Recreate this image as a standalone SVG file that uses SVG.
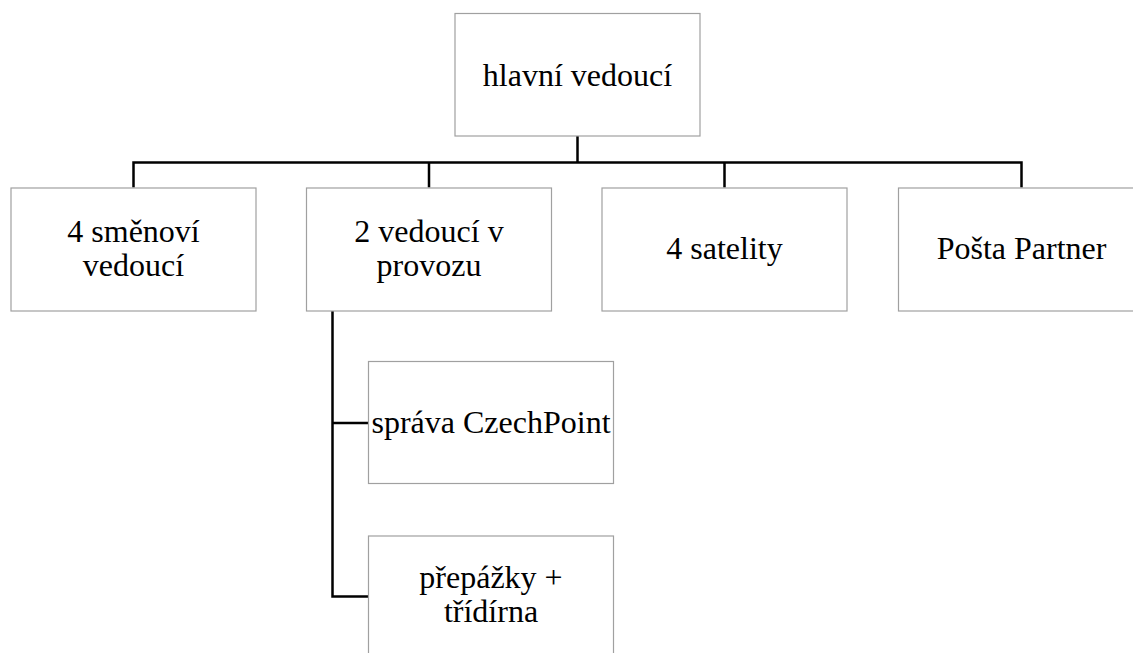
<svg xmlns="http://www.w3.org/2000/svg" width="1133" height="653" viewBox="0 0 1133 653">
<style>
.box{fill:#fff;stroke:#a0a0a0;stroke-width:1.2}
.t{font-family:"Liberation Serif","Times New Roman",serif;font-size:32px;fill:#000;text-anchor:middle}
.c{fill:none;stroke:#000;stroke-width:2.5}
</style>
<rect width="1133" height="653" fill="#fff"/>
<g id="connectors">
<path class="c" d="M577.5 136 V162.5 M133.5 187.5 V162.5 H1021.5 V187.5 M429 162.5 V187.5 M724.5 162.5 V187.5"/>
<path class="c" d="M332.5 311 V596.5 H368.5 M332.5 423 H368.5"/>
</g>
<g id="n-hlavni"><rect class="box" x="455" y="13.5" width="245" height="122.5"/><text class="t" x="577.5" y="86">hlavní vedoucí</text></g>
<g id="n-smenovi"><rect class="box" x="11" y="188" width="245" height="123"/><text class="t" x="133.5" y="241.5">4 směnoví</text><text class="t" x="133.5" y="276">vedoucí</text></g>
<g id="n-provoz"><rect class="box" x="306.5" y="188" width="245" height="123"/><text class="t" x="429" y="241.5">2 vedoucí v</text><text class="t" x="429" y="276">provozu</text></g>
<g id="n-satelity"><rect class="box" x="602" y="188" width="245" height="123"/><text class="t" x="724.5" y="259">4 satelity</text></g>
<g id="n-posta"><rect class="box" x="898.5" y="188" width="245" height="123"/><text class="t" x="1021.5" y="259">Pošta Partner</text></g>
<g id="n-czechpoint"><rect class="box" x="368.5" y="361.5" width="245" height="122"/><text class="t" x="491" y="433">správa CzechPoint</text></g>
<g id="n-prepazky"><rect class="box" x="368.5" y="536" width="245" height="122"/><text class="t" x="491" y="588">přepážky +</text><text class="t" x="491" y="622">třídírna</text></g>
</svg>
